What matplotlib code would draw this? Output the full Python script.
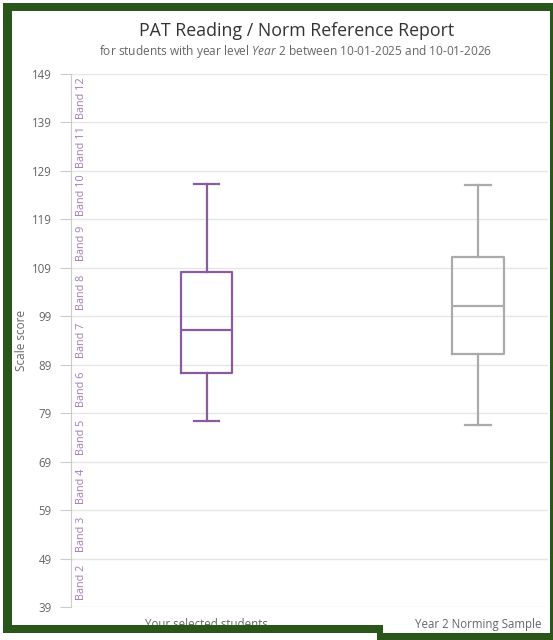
import matplotlib
matplotlib.use("Agg")
import matplotlib.pyplot as plt
from matplotlib.patches import Rectangle
from matplotlib.transforms import blended_transform_factory

plt.rcParams['font.family'] = ['Open Sans', 'DejaVu Sans']
plt.rcParams['mathtext.fontset'] = 'custom'
plt.rcParams['mathtext.rm'] = 'Open Sans'
plt.rcParams['mathtext.it'] = 'Open Sans:italic'

# data
categories = ["Your selected students", "Year 2 Norming Sample"]
whislo = [77.3, 76.6]
q1 = [87.2, 91.3]
med = [96.2, 101.2]
q3 = [108.1, 111.3]
whishi = [126.2, 126.0]
box_colors = ['#8b5a9f', '#ababab']

y_ticks = [39, 49, 59, 69, 79, 89, 99, 109, 119, 129, 139, 149]
band_names = ["Band 2", "Band 3", "Band 4", "Band 5", "Band 6", "Band 7",
              "Band 8", "Band 9", "Band 10", "Band 11", "Band 12"]

W, H = 553, 640
fig = plt.figure(figsize=(W / 100, H / 100), dpi=100)
fig.patch.set_facecolor('white')

# plot area in pixel terms of the screenshot
px_l, px_r, px_t, px_b = 71, 548, 74, 607
ax = fig.add_axes([px_l / W, 1 - px_b / H, (px_r - px_l) / W, (px_b - px_t) / H])

stats = []
for i, cat in enumerate(categories):
    stats.append({'label': cat, 'whislo': whislo[i], 'q1': q1[i], 'med': med[i],
                  'q3': q3[i], 'whishi': whishi[i], 'fliers': []})

for i, s in enumerate(stats):
    c = box_colors[i]
    ax.bxp([s], positions=[i], widths=0.19, capwidths=0.093, showfliers=False,
           boxprops=dict(color=c, lw=1.6), whiskerprops=dict(color=c, lw=1.6),
           capprops=dict(color=c, lw=1.6), medianprops=dict(color=c, lw=1.6),
           manage_ticks=False, zorder=3)

ax.set_xlim(-0.5, 1.258)
ax.set_ylim(39, 149)
ax.set_yticks(y_ticks)
ax.set_xticks([0, 1])
ax.set_xticklabels(categories)
ax.tick_params(axis='x', length=0, pad=8, labelsize=8.3, labelcolor='#666666')
ax.tick_params(axis='y', length=8, width=0.8, color='#cccccc', pad=6,
               labelsize=8.3, labelcolor='#666666')
ax.grid(axis='y', color='#e6e6e6', lw=1)
ax.set_axisbelow(True)
for side in ['top', 'right', 'bottom']:
    ax.spines[side].set_visible(False)
ax.spines['left'].set_color('#cccccc')
ax.spines['left'].set_linewidth(0.8)
ax.set_ylabel("Scale score", fontsize=8.5, color='#666666')
ax.yaxis.set_label_coords((28 - px_l) / (px_r - px_l), 0.5)

# band labels between the grid lines
trans = blended_transform_factory(ax.transAxes, ax.transData)
for lo, hi, name in zip(y_ticks[:-1], y_ticks[1:], band_names):
    ax.text(10 / (px_r - px_l), (lo + hi) / 2, name, rotation=90, transform=trans,
            ha='center', va='center', fontsize=7.8, color='#a27bb8')

fig.text(297 / W, 1 - 31 / H, "PAT Reading / Norm Reference Report",
         ha='center', va='center', fontsize=12.8, color='#333333')
fig.text(296 / W, 1 - 52 / H,
         r"for students with year level $\mathit{Year\ 2}$ between 10-01-2025 and 10-01-2026",
         ha='center', va='center', fontsize=8.6, color='#666666')

# green window frame around the screenshot
green = '#2b561b'
def frame(x0, y0, x1, y1):
    fig.patches.append(Rectangle((x0 / W, 1 - y1 / H), (x1 - x0) / W, (y1 - y0) / H,
                                 transform=fig.transFigure, facecolor=green,
                                 edgecolor='none', zorder=10))

frame(3, 3, 553, 11)
frame(3, 3, 12, 633)
frame(3, 625, 383, 633)
frame(377, 625, 383, 640)
frame(383, 633, 553, 640)
frame(550, 3, 553, 640)

fig.savefig("out.png", dpi=100)
